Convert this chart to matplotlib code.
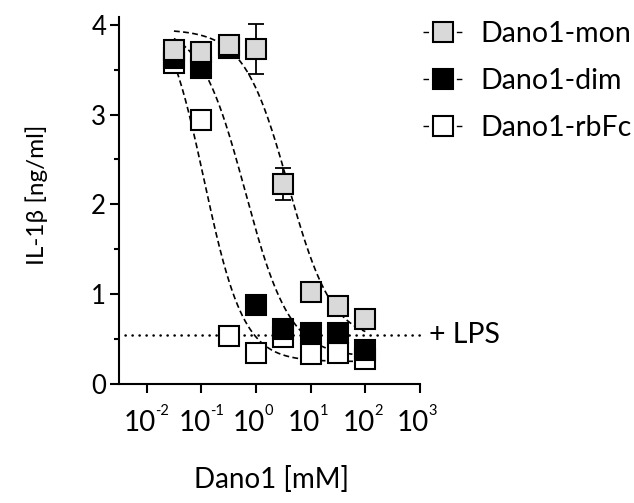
import numpy as np
import matplotlib
matplotlib.use("Agg")
import matplotlib.pyplot as plt
import matplotlib.transforms as mtransforms
from matplotlib.lines import Line2D
from matplotlib.ticker import FixedLocator, FixedFormatter, NullLocator, MultipleLocator

plt.rcParams['font.family'] = ['Lato', 'DejaVu Sans']

# ---- data ----
conc = [0.0316, 0.1, 0.316, 1.0, 3.16, 10.0, 31.6, 100.0]
mon = [3.72, 3.70, 3.78, 3.73, 2.23, 1.02, 0.87, 0.72]
mon_err = [0.0, 0.0, 0.0, 0.28, 0.18, 0.0, 0.0, 0.0]
dim = [3.63, 3.52, 3.74, 0.88, 0.61, 0.57, 0.57, 0.375]
rbfc = [3.58, 2.935, 0.53, 0.35, 0.52, 0.33, 0.34, 0.28]
lps_level = 0.545

# 4-parameter logistic fit parameters (top, bottom, logEC50, hill)
fit_mon = (3.95, 0.48, 0.59, 1.07)
fit_dim = (4.0, 0.30, -0.20, 1.05)
fit_rbfc = (4.3, 0.25, -0.95, 1.2)

xtick_vals = [1e-2, 1e-1, 1e0, 1e1, 1e2, 1e3]
xtick_base = ['10', '10', '10', '10', '10', '10']
xtick_exps = ['-2', '-1', '0', '1', '2', '3']
ytick_vals = [0, 1, 2, 3, 4]
series_labels = ['Dano1-mon', 'Dano1-dim', 'Dano1-rbFc']


def logistic(x, p):
    top, bottom, c, h = p
    return bottom + (top - bottom) / (1 + 10 ** (h * (np.log10(x) - c)))


fig = plt.figure(figsize=(6.34, 5.03), dpi=100)
ax = fig.add_axes([119.3 / 634, 1 - 384 / 503, (420 - 119.3) / 634, (384 - 16.7) / 503])
ax.set_xscale('log')
ax.set_xlim(10 ** -2.5, 1e3)
ax.set_ylim(0, 4.09)

xs = np.logspace(np.log10(conc[0]), np.log10(conc[-1]), 300)
dash = (0, (3.5, 2.0))
for p in (fit_rbfc, fit_dim, fit_mon):
    ax.plot(xs, logistic(xs, p), color='black', lw=1.2, linestyle=dash, zorder=2)

# LPS reference line
ax.plot([10 ** -2.39, 10 ** 3.09], [lps_level, lps_level], color='black', lw=1.8,
        linestyle=(0, (0.1, 2.7)), dash_capstyle='round', clip_on=False, zorder=1)
ax.text(10 ** 3.16, lps_level, '+ LPS', ha='left', va='center', fontsize=20.5)

ms = 14.5
mew = 1.5
ax.plot(conc, rbfc, 's', ms=ms, mfc='white', mec='black', mew=mew, zorder=4, clip_on=False)
ax.plot(conc, dim, 's', ms=ms, mfc='black', mec='black', mew=mew, zorder=5, clip_on=False)
ax.errorbar(conc, mon, yerr=mon_err, fmt='none', ecolor='black', elinewidth=1.3,
            capsize=5.5, capthick=1.3, zorder=5.5)
ax.plot(conc, mon, 's', ms=ms, mfc='#d9d9d9', mec='black', mew=mew, zorder=6, clip_on=False)

# axes styling
for s in ('top', 'right'):
    ax.spines[s].set_visible(False)
for s in ('left', 'bottom'):
    ax.spines[s].set_linewidth(1.5)

ax.xaxis.set_major_locator(FixedLocator(xtick_vals))
ax.xaxis.set_major_formatter(FixedFormatter(xtick_base))
ax.xaxis.set_minor_locator(NullLocator())
ax.yaxis.set_major_locator(FixedLocator(ytick_vals))
ax.yaxis.set_minor_locator(MultipleLocator(0.5))
ax.tick_params(axis='x', which='major', direction='out', length=6.5, width=1.5, labelsize=20, pad=12)
ax.tick_params(axis='y', which='major', direction='out', length=6.5, width=1.5, labelsize=18.5, pad=3)
ax.tick_params(axis='y', which='minor', direction='out', length=3.5, width=1.5)

# shift "10" left so that "10" + exponent is centred on the tick
shift_left = mtransforms.ScaledTranslation(-6.7 / 100, 0, fig.dpi_scale_trans)
for lbl in ax.get_xticklabels():
    lbl.set_transform(lbl.get_transform() + shift_left)

# exponents
exp_tr = mtransforms.blended_transform_factory(ax.transData, ax.transAxes) + \
    mtransforms.ScaledTranslation(8.6 / 100, 0, fig.dpi_scale_trans)
for xv, e in zip(xtick_vals, xtick_exps):
    ax.text(xv, (384 - 404) / 367.3, e, transform=exp_tr, ha='left', va='top',
            fontsize=10.5, clip_on=False)

ax.set_xlabel('Dano1 [mM]', fontsize=20)
ax.set_ylabel('IL-1β [ng/ml]', fontsize=17.5)
ax.xaxis.label.set_va('center')
ax.yaxis.label.set_va('center')
ax.xaxis.set_label_coords((272 - 119.3) / 300.7, (384 - 480) / 367.3)
ax.yaxis.set_label_coords((37 - 119.3) / 300.7, (384 - 195) / 367.3)

leg_ls = (0, (4, 4))
handles = [
    Line2D([], [], color='black', lw=1.0, linestyle=leg_ls, marker='s', ms=14, mfc='#d9d9d9', mec='black', mew=1.5),
    Line2D([], [], color='black', lw=1.0, linestyle=leg_ls, marker='s', ms=14, mfc='black', mec='black', mew=1.5),
    Line2D([], [], color='black', lw=1.0, linestyle=leg_ls, marker='s', ms=14, mfc='white', mec='black', mew=1.5),
]
leg = fig.legend(handles, series_labels, loc='upper left', bbox_to_anchor=(403.5 / 634, 1 - 1 / 503),
                 frameon=False, fontsize=20.5, handlelength=1.4, handletextpad=0.6,
                 labelspacing=0.73, borderpad=0.2)

fig.savefig('out.png', dpi=100)
